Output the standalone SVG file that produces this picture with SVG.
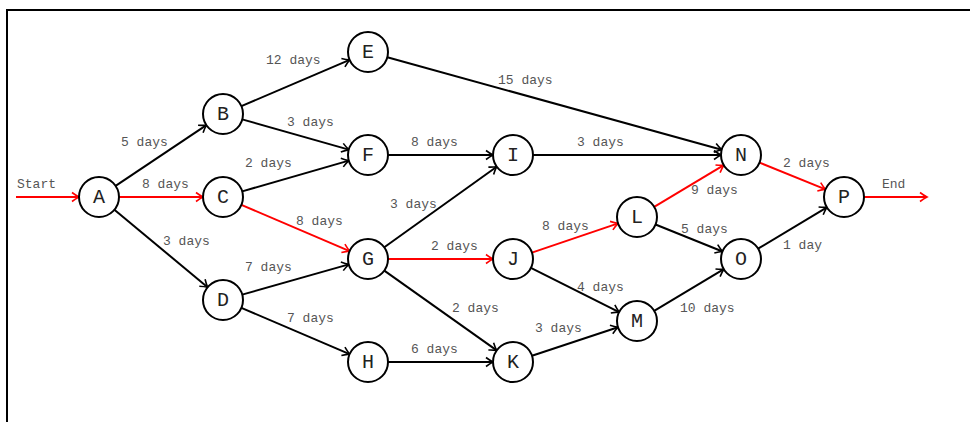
<svg xmlns="http://www.w3.org/2000/svg" width="970" height="422" viewBox="0 0 970 422">
<style>
.n circle{fill:#fff;stroke:#000;stroke-width:2}
.n text{font-family:"Liberation Mono","Courier New",monospace;font-size:20px;fill:#222;text-anchor:middle;dominant-baseline:central}
.e line{stroke:#000;stroke-width:2;marker-end:url(#ab)}
.e line.r{stroke:#f00;marker-end:url(#ar)}
.lbl{font-family:"Liberation Mono","Courier New",monospace;font-size:13px;fill:#555}
</style>
<defs>
<marker id="ab" markerUnits="userSpaceOnUse" orient="auto" refX="0" refY="0" markerWidth="20" markerHeight="20" viewBox="-10 -10 20 20" overflow="visible">
<path d="M-7,-4.5 Q-3,-1.5 0,0 Q-3,1.5 -7,4.5" fill="none" stroke="#000" stroke-width="1.6"/>
</marker>
<marker id="ar" markerUnits="userSpaceOnUse" orient="auto" refX="0" refY="0" markerWidth="20" markerHeight="20" viewBox="-10 -10 20 20" overflow="visible">
<path d="M-7,-4.5 Q-3,-1.5 0,0 Q-3,1.5 -7,4.5" fill="none" stroke="#f00" stroke-width="1.6"/>
</marker>
</defs>
<rect x="0" y="0" width="970" height="422" fill="#fff"/>
<rect x="7" y="10" width="990" height="440" fill="none" stroke="#000" stroke-width="2"/>
<g id="connectors" class="e">
<line class="r" x1="16" y1="197" x2="79" y2="197"/>
<line x1="115.6" y1="185.9" x2="206.4" y2="125.1"/>
<line class="r" x1="119" y1="197" x2="203" y2="197"/>
<line x1="114.4" y1="209.8" x2="207.6" y2="287.2"/>
<line x1="241.4" y1="106.1" x2="349.6" y2="59.9"/>
<line x1="242.2" y1="119.4" x2="348.8" y2="149.6"/>
<line x1="242.2" y1="191.4" x2="348.8" y2="160.6"/>
<line class="r" x1="241.4" y1="204.9" x2="349.6" y2="251.1"/>
<line x1="242.2" y1="294.6" x2="348.8" y2="264.4"/>
<line x1="241.4" y1="307.9" x2="349.6" y2="354.1"/>
<line x1="387.3" y1="57.3" x2="721.7" y2="149.7"/>
<line x1="388" y1="155" x2="493" y2="155"/>
<line x1="384.3" y1="247.3" x2="496.7" y2="166.7"/>
<line class="r" x1="388" y1="259" x2="493" y2="259"/>
<line x1="384.3" y1="270.6" x2="496.7" y2="350.4"/>
<line x1="388" y1="362" x2="493" y2="362"/>
<line x1="533" y1="155" x2="721" y2="155"/>
<line class="r" x1="531.9" y1="252.6" x2="618.1" y2="223.4"/>
<line x1="530.9" y1="267.9" x2="619.1" y2="312.1"/>
<line x1="532" y1="355.7" x2="618" y2="327.3"/>
<line class="r" x1="654.2" y1="206.8" x2="723.8" y2="165.2"/>
<line x1="655.5" y1="224.5" x2="722.5" y2="251.5"/>
<line x1="654.2" y1="310.8" x2="723.8" y2="269.2"/>
<line class="r" x1="759.5" y1="162.6" x2="825.5" y2="189.4"/>
<line x1="758.1" y1="248.7" x2="826.9" y2="207.3"/>
<line class="r" x1="864" y1="197" x2="927" y2="197"/>
</g>
<g id="labels" class="lbl">
<text x="17" y="188">Start</text>
<text x="882" y="188">End</text>
<text x="121" y="146">5 days</text>
<text x="142" y="188">8 days</text>
<text x="163" y="245">3 days</text>
<text x="266" y="64">12 days</text>
<text x="287" y="126">3 days</text>
<text x="245" y="167">2 days</text>
<text x="296" y="225">8 days</text>
<text x="245" y="271">7 days</text>
<text x="287" y="322">7 days</text>
<text x="498" y="84">15 days</text>
<text x="411" y="146">8 days</text>
<text x="577" y="146">3 days</text>
<text x="390" y="208">3 days</text>
<text x="431" y="250">2 days</text>
<text x="542" y="230">8 days</text>
<text x="577" y="291">4 days</text>
<text x="452" y="312">2 days</text>
<text x="535" y="332">3 days</text>
<text x="411" y="353">6 days</text>
<text x="691" y="194">9 days</text>
<text x="783" y="167">2 days</text>
<text x="681" y="233">5 days</text>
<text x="783" y="249">1 day</text>
<text x="680" y="312">10 days</text>
</g>
<g id="A" class="n"><circle cx="99" cy="197" r="20"/><text x="99" y="197">A</text></g>
<g id="B" class="n"><circle cx="223" cy="114" r="20"/><text x="223" y="114">B</text></g>
<g id="C" class="n"><circle cx="223" cy="197" r="20"/><text x="223" y="197">C</text></g>
<g id="D" class="n"><circle cx="223" cy="300" r="20"/><text x="223" y="300">D</text></g>
<g id="E" class="n"><circle cx="368" cy="52" r="20"/><text x="368" y="52">E</text></g>
<g id="F" class="n"><circle cx="368" cy="155" r="20"/><text x="368" y="155">F</text></g>
<g id="G" class="n"><circle cx="368" cy="259" r="20"/><text x="368" y="259">G</text></g>
<g id="H" class="n"><circle cx="368" cy="362" r="20"/><text x="368" y="362">H</text></g>
<g id="I" class="n"><circle cx="513" cy="155" r="20"/><text x="513" y="155">I</text></g>
<g id="J" class="n"><circle cx="513" cy="259" r="20"/><text x="513" y="259">J</text></g>
<g id="K" class="n"><circle cx="513" cy="362" r="20"/><text x="513" y="362">K</text></g>
<g id="L" class="n"><circle cx="637" cy="217" r="20"/><text x="637" y="217">L</text></g>
<g id="M" class="n"><circle cx="637" cy="321" r="20"/><text x="637" y="321">M</text></g>
<g id="N" class="n"><circle cx="741" cy="155" r="20"/><text x="741" y="155">N</text></g>
<g id="O" class="n"><circle cx="741" cy="259" r="20"/><text x="741" y="259">O</text></g>
<g id="P" class="n"><circle cx="844" cy="197" r="20"/><text x="844" y="197">P</text></g>
</svg>
